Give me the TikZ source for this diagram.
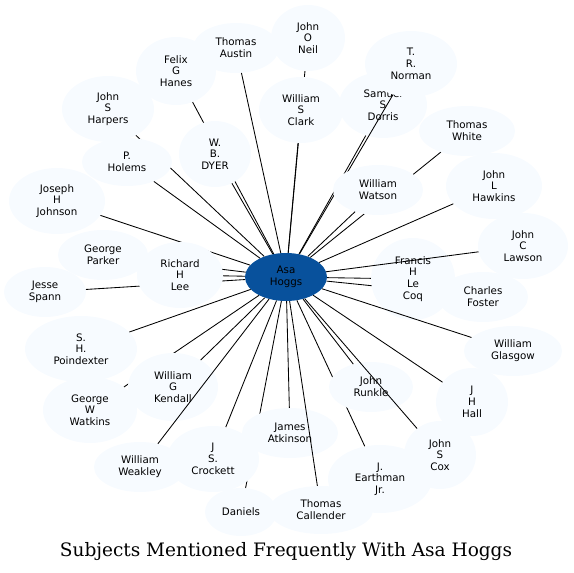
\documentclass[tikz,border=0pt]{standalone}
\usepackage{fontspec}
\newfontfamily\lblfont{DejaVu Sans}
\newfontfamily\ttlfont{DejaVu Serif}
\usetikzlibrary{shapes.geometric}
\definecolor{nodefill}{HTML}{F7FBFF}
\definecolor{centerfill}{HTML}{08519C}
\tikzset{
  pnode/.style={ellipse, fill=nodefill, inner sep=0pt, align=center,
    font=\lblfont\fontsize{10.3}{11.7}\selectfont},
  cnode/.style={pnode, fill=centerfill},
  link/.style={line width=0.85pt, black},
}
\newcommand{\pn}[6]{% name, x, y, rx, ry, text
  \node[pnode, minimum width=#4*2pt, minimum height=#5*2pt] (#1) at (#2,#3) {#6};
  \draw[link] (asa) -- (#1);
}
\begin{document}
\begin{tikzpicture}[x=1pt,y=-1pt]
\useasboundingbox (0,0) rectangle (574,573);
\node[cnode, minimum width=82pt, minimum height=48pt] (asa) at (286,277) {Asa\\Hoggs};
\pn{oneil}{308}{38}{37}{33}{John\\O\\Neil}
\pn{clark}{301}{110}{42}{33}{William\\S\\Clark}
\pn{felix}{176}{71}{40}{34}{Felix\\G\\Hanes}
\pn{dyer}{215}{154}{36}{33}{W.\\B.\\DYER}
\pn{austin}{236}{48}{43}{25}{Thomas\\Austin}
\pn{harpers}{108}{109}{46}{33}{John\\S\\Harpers}
\pn{holems}{127}{162}{45}{24}{P.\\Holems}
\pn{johnson}{57}{201}{48}{33}{Joseph\\H\\Johnson}
\pn{dorris}{383}{105}{44}{33}{Samuel\\S\\Dorris}
\pn{norman}{411}{64}{46}{33}{T.\\R.\\Norman}
\pn{white}{467}{131}{48}{25}{Thomas\\White}
\pn{watson}{378}{190}{45}{25}{William\\Watson}
\pn{hawkins}{494}{186}{48}{33}{John\\L\\Hawkins}
\pn{parker}{103}{255}{45}{25}{George\\Parker}
\pn{spann}{45}{292}{41}{25}{Jesse\\Spann}
\pn{lee}{180}{275}{43}{33}{Richard\\H\\Lee}
\pn{foster}{483}{297}{45}{25}{Charles\\Foster}
\pn{lecoq}{413}{279}{42}{41}{Francis\\H\\Le\\Coq}
\pn{lawson}{523}{246}{45}{33}{John\\C\\Lawson}
\pn{glasgow}{513}{351}{49}{25}{William\\Glasgow}
\pn{poindexter}{81}{349}{56}{33}{S.\\H.\\Poindexter}
\pn{watkins}{90}{410}{47}{33}{George\\W\\Watkins}
\pn{kendall}{173}{387}{45}{34}{William\\G\\Kendall}
\pn{weakley}{140}{467}{46}{25}{William\\Weakley}
\pn{daniels}{241}{512}{36}{24}{Daniels}
\pn{atkinson}{290}{433}{48}{25}{James\\Atkinson}
\pn{crockett}{213}{459}{46}{33}{J\\S.\\Crockett}
\pn{callender}{321}{510}{52}{24}{Thomas\\Callender}
\pn{earthman}{380}{479}{52}{34}{J.\\Earthman\\Jr.}
\pn{runkle}{371}{387}{42}{25}{John\\Runkle}
\pn{cox}{440}{455}{36}{34}{John\\S\\Cox}
\pn{hall}{472}{402}{36}{34}{J\\H\\Hall}
\node[font=\ttlfont\fontsize{18.5}{21}\selectfont] (title) at (286,552) {Subjects Mentioned Frequently With Asa Hoggs};
\end{tikzpicture}
\end{document}
